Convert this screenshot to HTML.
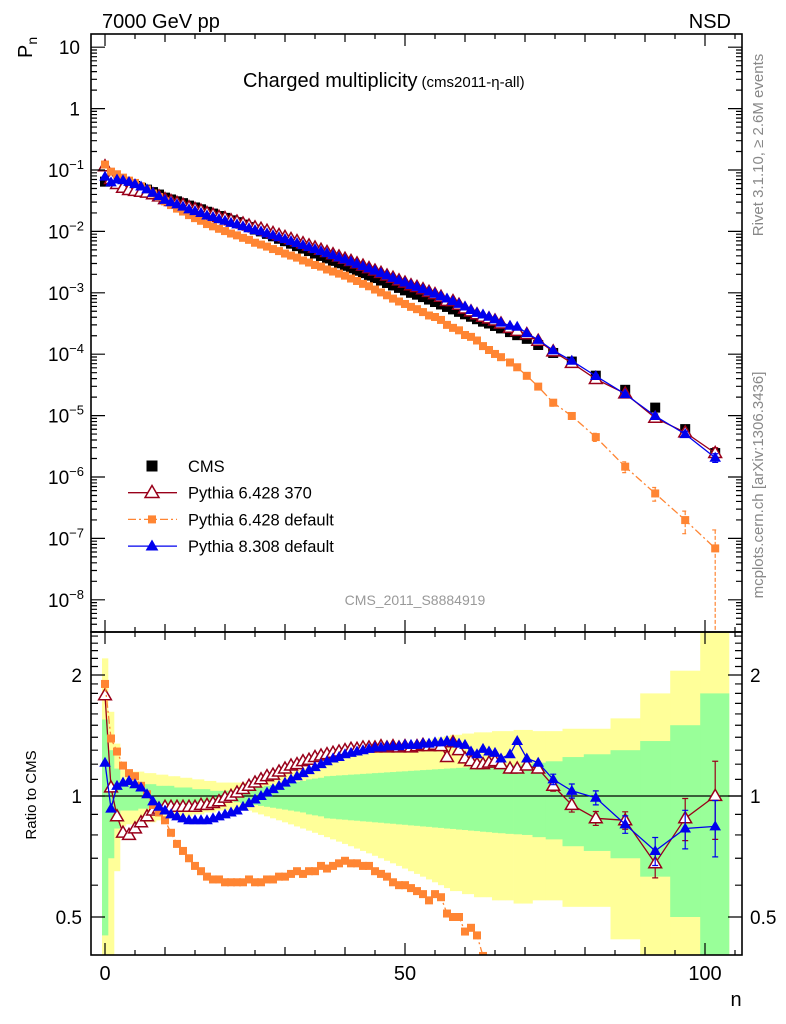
<!DOCTYPE html>
<html><head><meta charset="utf-8"><style>
html,body{margin:0;padding:0;background:#fff;width:786px;height:1024px;overflow:hidden}
svg{display:block;font-family:"Liberation Sans",sans-serif}
</style></head><body>
<svg id="c" width="786" height="1024" viewBox="0 0 786 1024" xmlns="http://www.w3.org/2000/svg">
<defs>
<clipPath id="clipTop"><rect x="91" y="34" width="651" height="598"/></clipPath>
<clipPath id="clipBot"><rect x="91" y="632" width="651" height="323"/></clipPath>
</defs>
<g id="bands" clip-path="url(#clipBot)"></g>
<g id="topMarks" clip-path="url(#clipTop)"></g>
<g id="botMarks" clip-path="url(#clipBot)"></g>
<g id="axes"></g>
<text x="102" y="28" font-size="20">7000 GeV pp</text>
<text x="731" y="28" font-size="20" text-anchor="end">NSD</text>
<text x="243" y="87" font-size="20">Charged multiplicity<tspan font-size="15" dx="4">(cms2011-η-all)</tspan></text>
<text transform="translate(32,58) rotate(-90)" font-size="20">P<tspan font-size="14" dy="5">n</tspan></text>
<text transform="translate(36,795) rotate(-90)" font-size="15" text-anchor="middle">Ratio to CMS</text>
<text x="736" y="1006" font-size="20" text-anchor="middle">n</text>
<text transform="translate(763,145) rotate(-90)" font-size="15" fill="#888" text-anchor="middle">Rivet 3.1.10, ≥ 2.6M events</text>
<text transform="translate(763,485) rotate(-90)" font-size="15" fill="#888" text-anchor="middle">mcplots.cern.ch [arXiv:1306.3436]</text>
<text x="415" y="605" font-size="14" fill="#999" text-anchor="middle">CMS_2011_S8884919</text>
<g id="legend"></g>
</svg>
<script>
const nVals=[0,1,2,3,4,5,6,7,8,9,10,11,12,13,14,15,16,17,18,19,20,21,22,23,24,25,26,27,28,29,30,31,32,33,34,35,36,37,38,39,40,41,42,43,44,45,46,47,48,49,50,51,52,53,54,55,56,57,58,59,60,61,62,63,64,65,66,67.5,68.7,70.3,72.2,74.7,77.8,81.8,86.7,91.7,96.7,101.7];
const cmsLog=[-1.19,-1.17,-1.18,-1.20,-1.23,-1.26,-1.29,-1.32,-1.36,-1.40,-1.45,-1.48,-1.51,-1.54,-1.58,-1.61,-1.64,-1.68,-1.71,-1.75,-1.78,-1.82,-1.85,-1.89,-1.93,-1.97,-2.00,-2.04,-2.08,-2.12,-2.16,-2.20,-2.24,-2.28,-2.32,-2.36,-2.40,-2.44,-2.48,-2.52,-2.56,-2.60,-2.64,-2.68,-2.72,-2.76,-2.80,-2.84,-2.88,-2.92,-2.96,-3.00,-3.03,-3.07,-3.11,-3.15,-3.19,-3.23,-3.27,-3.31,-3.35,-3.39,-3.43,-3.47,-3.50,-3.54,-3.58,-3.64,-3.69,-3.75,-3.85,-3.98,-4.12,-4.35,-4.58,-4.87,-5.22,-5.61];
const ratioP6370=[1.78,1.05,0.89,0.81,0.80,0.83,0.86,0.89,0.92,0.93,0.94,0.94,0.94,0.94,0.94,0.94,0.95,0.95,0.96,0.97,0.99,1.00,1.02,1.04,1.06,1.08,1.10,1.12,1.13,1.15,1.17,1.19,1.20,1.22,1.23,1.25,1.26,1.27,1.28,1.29,1.30,1.31,1.31,1.32,1.32,1.32,1.33,1.32,1.33,1.32,1.33,1.32,1.33,1.34,1.33,1.34,1.33,1.25,1.36,1.30,1.24,1.22,1.20,1.20,1.21,1.22,1.20,1.17,1.17,1.19,1.17,1.06,0.95,0.88,0.87,0.68,0.88,1.00];
const ratioP6def=[1.90,1.39,1.29,1.19,1.14,1.12,1.06,1.01,0.95,0.91,0.87,0.81,0.76,0.73,0.70,0.67,0.65,0.63,0.62,0.62,0.61,0.61,0.61,0.61,0.62,0.61,0.61,0.62,0.62,0.63,0.63,0.64,0.65,0.64,0.65,0.65,0.67,0.66,0.67,0.68,0.69,0.68,0.68,0.67,0.67,0.65,0.64,0.63,0.61,0.60,0.60,0.59,0.58,0.57,0.55,0.57,0.56,0.51,0.50,0.50,0.46,0.47,0.45,0.40,0.37,0.35,0.34,0.32,0.30,0.25,0.21,0.155,0.13,0.10,0.056,0.040,0.033,0.028];
const ratioP8=[1.21,0.93,1.06,1.08,1.09,1.07,1.05,1.01,0.97,0.94,0.92,0.90,0.89,0.88,0.87,0.87,0.87,0.87,0.88,0.89,0.90,0.91,0.92,0.94,0.96,0.98,1.00,1.02,1.04,1.06,1.08,1.10,1.12,1.14,1.16,1.18,1.20,1.22,1.24,1.25,1.27,1.28,1.29,1.30,1.31,1.32,1.32,1.33,1.33,1.33,1.34,1.34,1.34,1.35,1.35,1.36,1.36,1.37,1.36,1.35,1.34,1.29,1.27,1.31,1.29,1.28,1.24,1.27,1.37,1.24,1.21,1.10,1.03,0.99,0.85,0.73,0.83,0.84];
const errYellow=[1.2,0.62,0.35,0.16,0.15,0.15,0.15,0.14,0.14,0.13,0.13,0.12,0.12,0.11,0.11,0.10,0.10,0.09,0.09,0.08,0.08,0.08,0.08,0.08,0.08,0.09,0.10,0.11,0.12,0.13,0.14,0.15,0.16,0.17,0.18,0.19,0.20,0.21,0.22,0.23,0.24,0.25,0.26,0.27,0.28,0.29,0.30,0.31,0.32,0.33,0.34,0.35,0.36,0.37,0.38,0.39,0.40,0.41,0.42,0.42,0.43,0.43,0.44,0.44,0.44,0.45,0.45,0.45,0.46,0.46,0.45,0.45,0.47,0.47,0.56,0.8,1.05,1.7];
const errGreen=[0.55,0.30,0.17,0.08,0.08,0.08,0.07,0.07,0.07,0.06,0.06,0.06,0.05,0.05,0.05,0.04,0.04,0.04,0.03,0.03,0.03,0.03,0.035,0.04,0.045,0.05,0.055,0.06,0.065,0.07,0.075,0.08,0.085,0.09,0.10,0.105,0.11,0.12,0.122,0.125,0.127,0.13,0.132,0.135,0.137,0.14,0.142,0.145,0.147,0.15,0.152,0.155,0.157,0.16,0.162,0.165,0.167,0.17,0.172,0.175,0.177,0.18,0.182,0.185,0.187,0.19,0.192,0.195,0.197,0.20,0.21,0.22,0.25,0.27,0.30,0.37,0.50,0.80];
const hiIdx=[71,72,73,74,75,76,77];
const errP6370Hi=[0.03,0.04,0.04,0.05,0.08,0.12,0.22];
const errP8Hi=[0.03,0.04,0.04,0.05,0.08,0.11,0.16];
const errP6defHi=[0.12,0.12,0.15,0.2,0.25,0.4,1.0];
const xTicksMajor=[0,50,100];
const topDecades=[1,0,-1,-2,-3,-4,-5,-6,-7,-8];
const ratioLabels=[0.5,1,2];

const NS='http://www.w3.org/2000/svg';
const X=n=>105+6*n;
const YT=p=>108.6-61.4*Math.log10(p);
const YR=r=>796-121*Math.log2(r);
const clampY=(y,a,b)=>Math.min(Math.max(y,a),b);
function mk(tag,attrs,parent){const e=document.createElementNS(NS,tag);for(const k in attrs)e.setAttribute(k,attrs[k]);parent.appendChild(e);return e;}
const cms=cmsLog.map(v=>Math.pow(10,v));
const gB=document.getElementById('bands'),gT=document.getElementById('topMarks'),gR=document.getElementById('botMarks'),gA=document.getElementById('axes'),gL=document.getElementById('legend');

const edges=[];
for(let i=0;i<nVals.length;i++){edges.push(i===0?nVals[0]-0.5:(nVals[i-1]+nVals[i])/2);}
edges.push(nVals[nVals.length-1]+2.3);
function band(errs,color,name){
  for(let i=0;i<nVals.length;i++){
    const x0=X(edges[i]),x1=X(edges[i+1]);
    const yTop=clampY(YR(1+errs[i]),632,955);
    const yBot=clampY(1-errs[i]>0.05?YR(1-errs[i]):955,632,955);
    const r=mk('rect',{x:x0,y:yTop,width:x1-x0+0.3,height:yBot-yTop,fill:color},gB);
    
    
  }
}
band(errYellow,'#ffff99','cms-2sigma-band');
band(errGreen,'#99ff99','cms-1sigma-band');
const one=mk('line',{x1:91,x2:742,y1:YR(1),y2:YR(1),stroke:'#000','stroke-width':1.2},gB);



function marker(parent,type,x,y,color,size){
  let e;
  if(type==='sq'){e=mk('rect',{x:x-size/2,y:y-size/2,width:size,height:size,fill:color},parent);}
  else if(type==='tri'){const h=size;e=mk('polygon',{points:`${x},${y-h*0.6} ${x-h*0.58},${y+h*0.4} ${x+h*0.58},${y+h*0.4}`,fill:color},parent);}
  else {const h=size;e=mk('polygon',{points:`${x},${y-h*0.6} ${x-h*0.58},${y+h*0.4} ${x+h*0.58},${y+h*0.4}`,fill:'#fff',stroke:color,'stroke-width':1.5},parent);}
  return e;
}
function series(parent,vals,yf,color,type,size,dash,name,errHi,line,ymin,ymax){
  const vis=[];
  vals.forEach((v,i)=>{const y=yf(v);if(y<ymax+40)vis.push(i);});
  if(line){
    const pts=vis.map(i=>X(nVals[i]).toFixed(1)+','+clampY(yf(vals[i]),ymin-20,ymax+20).toFixed(1)).join(' ');
    const pl=mk('polyline',{points:pts,fill:'none',stroke:color,'stroke-width':1.3},parent);
    if(dash)pl.setAttribute('stroke-dasharray',dash);
    
    
  }
  if(errHi){hiIdx.forEach((idx,k)=>{const v=vals[idx],e=errHi[k];const x=X(nVals[idx]);
    const y1=clampY(yf(v*(1+e)),ymin,ymax);
    const y2=clampY(1-e>0.01?yf(v*(1-e)):ymax,ymin,ymax);
    if(yf(v)>ymax)return;
    const el=mk('path',{d:`M${x},${y1}V${y2}M${x-3},${y1}h6M${x-3},${y2}h6`,stroke:color,'stroke-width':1.2,fill:'none'},parent);
    if(dash)el.setAttribute('stroke-dasharray','4,2');
    
    });}
  vis.forEach(i=>{const y=yf(vals[i]);if(y>ymax+10)return;const m=marker(parent,type,X(nVals[i]),y,color,size);
    
    });
}
const p6370=cms.map((c,i)=>c*ratioP6370[i]);
const p6def=cms.map((c,i)=>c*ratioP6def[i]);
const p8=cms.map((c,i)=>c*ratioP8[i]);
series(gT,cms,YT,'#000','sq',10,null,'cms',null,false,34,632);
series(gT,p6370,YT,'#99001a','otri',11,null,'pythia6-370',errP6370Hi,true,34,632);
series(gT,p6def,YT,'#ff8533','sq',8,'8,3,2,3','pythia6-default',errP6defHi,true,34,632);
series(gT,p8,YT,'#0000ee','tri',10,null,'pythia8-default',errP8Hi,true,34,632);
series(gR,ratioP6370,YR,'#99001a','otri',11,null,'ratio-pythia6-370',errP6370Hi,true,632,955);
series(gR,ratioP6def,YR,'#ff8533','sq',8,'8,3,2,3','ratio-pythia6-default',null,true,632,955);
series(gR,ratioP8,YR,'#0000ee','tri',10,null,'ratio-pythia8-default',errP8Hi,true,632,955);

[[34,632],[632,955]].forEach(([a,b],k)=>{const f=mk('rect',{x:91,y:a,width:651,height:b-a,fill:'none',stroke:'#000','stroke-width':1.6},gA);
  
  });
let d='';
for(let n=0;n<=105;n+=5){const x=X(n);const L=(n%50===0)?12:(n%10===0?8:5);
  [[34,1],[632,-1],[632,1],[955,-1]].forEach(([y,s])=>{d+=`M${x},${y}v${s*L}`;});}
for(let dec=-9;dec<=1;dec++){for(let m=1;m<=9;m++){const p=m*Math.pow(10,dec);const y=YT(p);if(y<34||y>632)continue;const L=m===1?14:6;d+=`M91,${y}h${L}M742,${y}h${-L}`;}}
for(let r=4;r<=25;r++){const v=r/10;const y=YR(v);if(y<632||y>955)continue;const L=(r===5||r===10||r===20)?14:7;d+=`M91,${y}h${L}M742,${y}h${-L}`;}
const tk=mk('path',{d:d,stroke:'#000','stroke-width':1.2,fill:'none'},gA);


xTicksMajor.forEach(n=>{const t=mk('text',{x:X(n),y:980,'font-size':20,'text-anchor':'middle'},gA);t.textContent=n;
  
  });
topDecades.forEach(e=>{const y=YT(Math.pow(10,e));const t=mk('text',{x:80,y:y+7,'font-size':19,'text-anchor':'end'},gA);
  if(e===1)t.textContent='10';else if(e===0)t.textContent='1';
  else{t.textContent='10';const s=mk('tspan',{'font-size':13,dy:-8},t);s.textContent='−'+(-e);t.setAttribute('x',84);}
  
  });
ratioLabels.forEach(v=>{const y=YR(v)+7;
  const a=mk('text',{x:82,y:y,'font-size':19,'text-anchor':'end'},gA);a.textContent=v;
  
  
  const b=mk('text',{x:750,y:y,'font-size':19},gA);b.textContent=v;
  
  });
const leg=[['CMS','#000','sq',11,null,false],['Pythia 6.428 370','#99001a','otri',12,null,true],['Pythia 6.428 default','#ff8533','sq',8,'8,3,2,3',true],['Pythia 8.308 default','#0000ee','tri',11,null,true]];
leg.forEach((l,i)=>{const y=466+i*26.7;const g=mk('g',{},gL);
  
  
  if(l[5]){const ln=mk('line',{x1:128,x2:177,y1:y,y2:y,stroke:l[1],'stroke-width':1.3},g);if(l[4])ln.setAttribute('stroke-dasharray',l[4]);}
  marker(g,l[2],152,y,l[1],l[3]);
  const t=mk('text',{x:188,y:y+6,'font-size':16.5},g);t.textContent=l[0];});
</script>
</body></html>
